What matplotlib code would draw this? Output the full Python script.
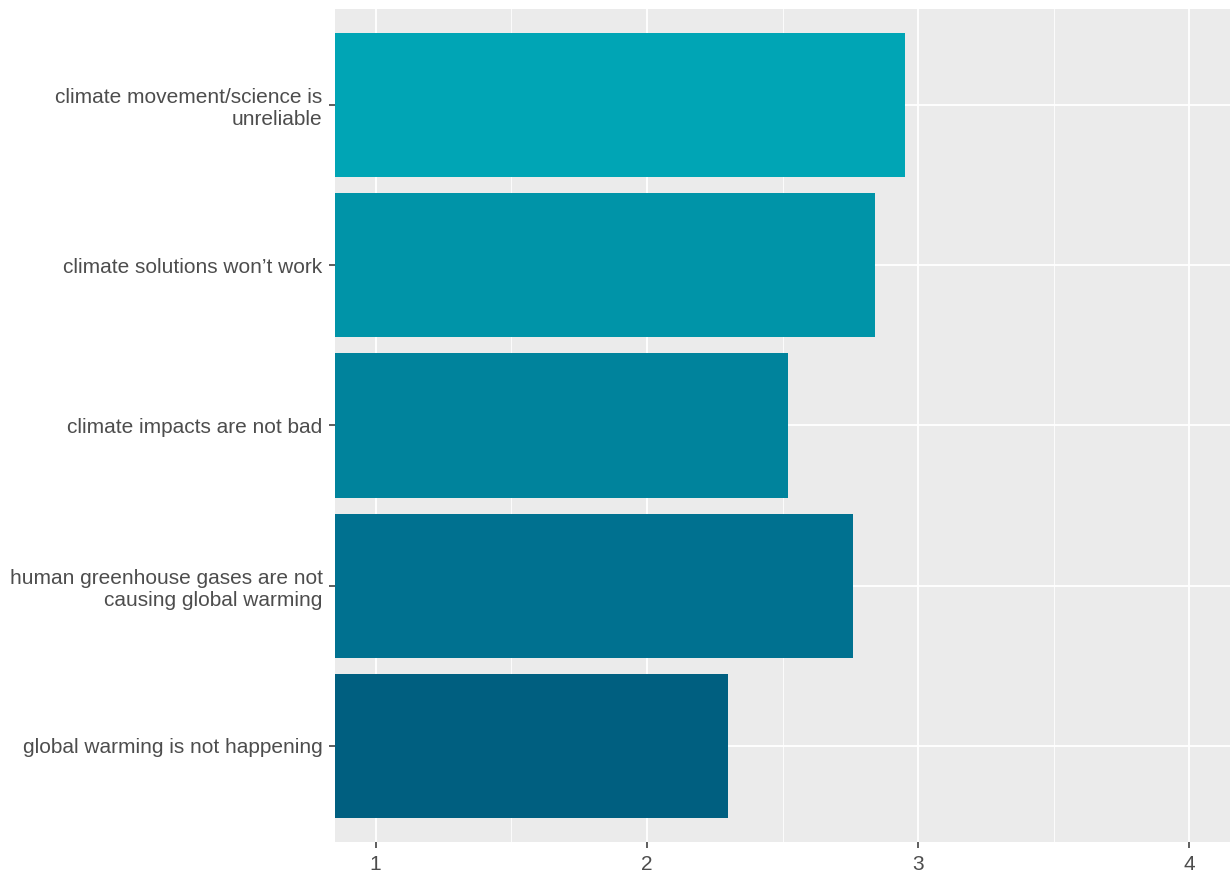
import matplotlib.pyplot as plt

plt.rcParams['font.family'] = ['Liberation Sans', 'DejaVu Sans']

# bottom to top
labels = [
    "global warming is not happening",
    "human greenhouse gases are not\ncausing global warming",
    "climate impacts are not bad",
    "climate solutions won\u2019t work",
    "climate movement/science is\nunreliable",
]
values = [2.30, 2.76, 2.52, 2.84, 2.95]
colors = ["#005F80", "#007190", "#00839C", "#0094A8", "#00A5B5"]


def main() -> None:
    fig = plt.figure(figsize=(12.3, 8.75), dpi=100)
    ax = fig.add_axes([335 / 1230, 33 / 875, 895 / 1230, 833 / 875])
    ax.set_facecolor("#EBEBEB")

    ypos = list(range(1, len(labels) + 1))
    ax.barh(ypos, values, height=0.9, color=colors, zorder=3)

    ax.set_xlim(0.85, 4.15)
    ax.set_ylim(0.4, len(labels) + 0.6)

    ax.set_xticks([1, 2, 3, 4])
    ax.set_xticks([1.5, 2.5, 3.5], minor=True)
    ax.set_yticks(ypos)
    ax.set_yticklabels(labels, ha="right", linespacing=1.2)

    ax.grid(which="major", color="white", linewidth=1.3, zorder=1)
    ax.grid(which="minor", axis="x", color="white", linewidth=0.6, zorder=1)
    ax.set_axisbelow(True)

    for s in ax.spines.values():
        s.set_visible(False)

    ax.tick_params(axis="both", which="major", colors="#333333", length=4, width=1.1,
                   labelsize=15, labelcolor="#4D4D4D")
    ax.tick_params(axis="y", pad=5)
    ax.tick_params(axis="x", pad=5)
    ax.tick_params(which="minor", length=0)

    fig.savefig("out.png", dpi=100)


if __name__ == "__main__":
    main()
